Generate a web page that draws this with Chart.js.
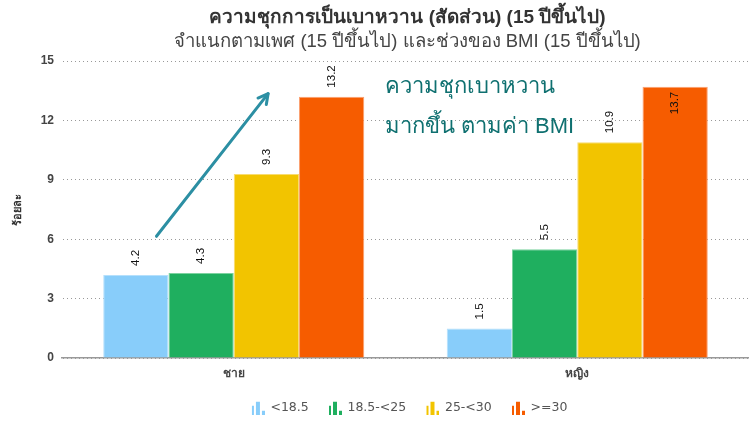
<!DOCTYPE html>
<html><head><meta charset="utf-8">
<script src="https://cdn.jsdelivr.net/npm/chart.js@4/dist/chart.umd.min.js"></script>
<style>html,body{margin:0;padding:0;background:#fff}#wrap{width:749px;height:423px;position:relative}</style>
</head><body><div id="wrap"><canvas id="c" width="749" height="423"></canvas></div>
<script>
const categories = ['ชาย', 'หญิง'];
const seriesNames = ['<18.5', '18.5-<25', '25-<30', '>=30'];
const bmiUnder185 = [4.2, 1.5];
const bmi185to25 = [4.3, 5.5];
const bmi25to30 = [9.3, 10.9];
const bmiOver30 = [13.2, 13.7];
const yTicks = [0, 3, 6, 9, 12, 15];
const titleText = 'ความชุกการเป็นเบาหวาน (สัดส่วน) (15 ปีขึ้นไป)';
const subtitleText = 'จำแนกตามเพศ (15 ปีขึ้นไป) และช่วงของ BMI (15 ปีขึ้นไป)';
const yTitle = 'ร้อยละ';
const noteLines = ['ความชุกเบาหวาน', 'มากขึ้น ตามค่า BMI'];

const colors = ['#88CDFA', '#1FAF5F', '#F2C400', '#F65C00'];
const borders = ['#B5E0FC', '#7DD3A0', '#F8DC70', '#FBA070'];
const FONT = '"Liberation Sans", Arial, sans-serif';

function icon(color) {
  const c = document.createElement('canvas');
  c.width = 14; c.height = 14;
  const g = c.getContext('2d');
  g.fillStyle = color;
  g.fillRect(1, 5, 2, 9);
  g.fillRect(5, 1, 4, 13);
  g.fillRect(11, 10, 3, 4);
  return c;
}

const valueLists = [bmiUnder185, bmi185to25, bmi25to30, bmiOver30];
const datasets = valueLists.map((v, i) => ({
  label: seriesNames[i], data: v,
  backgroundColor: colors[i], borderColor: borders[i], borderWidth: 1,
  categoryPercentage: 0.76, barPercentage: 1.0,
  pointStyle: icon(colors[i])
}));

const decor = {
  id: 'decor',
  afterLayout(chart) {
    const lg = chart.legend;
    if (lg) {
      lg.left += 35; lg.right += 35; lg.top -= 7; lg.bottom -= 7;
      if (lg.adjustHitBoxes) lg.adjustHitBoxes();
    }
  },
  afterDatasetsDraw(chart) {
    const ctx = chart.ctx, ca = chart.chartArea;
    ctx.save();
    ctx.font = '11.5px ' + FONT;
    ctx.fillStyle = '#111';
    ctx.textBaseline = 'middle';
    chart.data.datasets.forEach((ds, di) => {
      const meta = chart.getDatasetMeta(di);
      meta.data.forEach((bar, i) => {
        const txt = ds.data[i].toFixed(1);
        const w = ctx.measureText(txt).width;
        ctx.save();
        ctx.translate(bar.x, bar.y);
        ctx.rotate(-Math.PI / 2);
        if (bar.y - 8 - w < ca.top) { ctx.textAlign = 'right'; ctx.fillText(txt, -5, 0); }
        else { ctx.textAlign = 'left'; ctx.fillText(txt, 9, 0); }
        ctx.restore();
      });
    });
    const xs = chart.scales.x, ys = chart.scales.y;
    const catW = xs.getPixelForValue(1) - xs.getPixelForValue(0);
    const x1 = xs.getPixelForValue(0) - 0.225 * catW, y1 = ys.getPixelForValue(6.15);
    const x2 = xs.getPixelForValue(0) + 0.1 * catW, y2 = ys.getPixelForValue(13.35);
    ctx.strokeStyle = '#2C8FA3'; ctx.lineWidth = 3; ctx.lineCap = 'round'; ctx.lineJoin = 'round';
    ctx.beginPath(); ctx.moveTo(x1, y1); ctx.lineTo(x2, y2); ctx.stroke();
    const a = Math.atan2(y2 - y1, x2 - x1), L = 11;
    ctx.beginPath();
    ctx.moveTo(x2 - L * Math.cos(a - 0.5), y2 - L * Math.sin(a - 0.5));
    ctx.lineTo(x2, y2);
    ctx.lineTo(x2 - L * Math.cos(a + 0.5), y2 - L * Math.sin(a + 0.5));
    ctx.stroke();
    ctx.fillStyle = '#0F7070';
    ctx.font = '22px ' + FONT;
    ctx.textAlign = 'left'; ctx.textBaseline = 'middle';
    const nx = xs.getPixelForValue(0) + 0.44 * catW;
    ctx.fillText(noteLines[0], nx, ys.getPixelForValue(13.7));
    ctx.fillText(noteLines[1], nx, ys.getPixelForValue(11.65));
    ctx.restore();
  },
  afterDraw(chart) {
    const ctx = chart.ctx, ca = chart.chartArea;
    ctx.save();
    const cx = (ca.left + ca.right) / 2 + 2;
    ctx.textAlign = 'center'; ctx.textBaseline = 'middle';
    ctx.fillStyle = '#333';
    ctx.font = 'bold 19px ' + FONT;
    ctx.fillText(titleText, cx, 18);
    ctx.fillStyle = '#444';
    ctx.font = '18.5px ' + FONT;
    ctx.fillText(subtitleText, cx, 42);
    ctx.translate(18, (ca.top + ca.bottom) / 2);
    ctx.rotate(-Math.PI / 2);
    ctx.fillStyle = '#333';
    ctx.font = 'bold 11px ' + FONT;
    ctx.fillText(yTitle, 0, 0);
    ctx.restore();
  }
};

new Chart(document.getElementById('c'), {
  type: 'bar',
  data: { labels: categories, datasets },
  plugins: [decor],
  options: {
    responsive: false, animation: false,
    layout: { padding: { top: 61, right: 0, left: 0, bottom: -8 } },
    plugins: {
      title: { display: false },
      tooltip: { enabled: false },
      legend: {
        position: 'bottom',
        labels: {
          usePointStyle: true, boxWidth: 14, boxHeight: 14, padding: 20,
          color: '#555', font: { family: '"DejaVu Sans", sans-serif', size: 12.5 }
        }
      }
    },
    scales: {
      x: {
        grid: { display: false, drawTicks: false },
        border: { color: '#999', width: 1.5 },
        ticks: { color: '#444', font: { family: FONT, size: 12, weight: 'bold' }, padding: 8 }
      },
      y: {
        min: 0, max: 15,
        afterBuildTicks(ax) { ax.ticks = yTicks.map(v => ({ value: v })); },
        afterFit(ax) { ax.width = 62; },
        grid: { color: '#999', lineWidth: 1, drawTicks: false },
        border: { display: true, color: 'rgba(0,0,0,0)', dash: [1, 3] },
        ticks: { color: '#444', font: { family: FONT, size: 12, weight: 'bold' }, padding: 8 }
      }
    }
  }
});
</script></body></html>
